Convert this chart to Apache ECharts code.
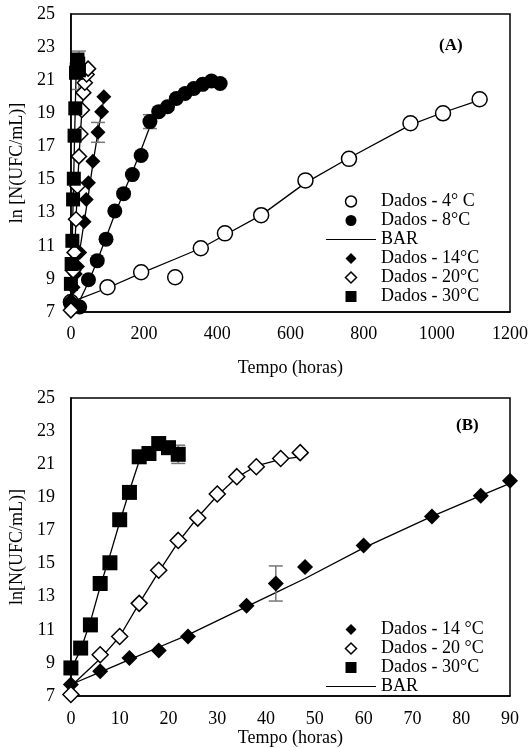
<!DOCTYPE html>
<html>
<head>
<meta charset="utf-8">
<script src="https://cdn.jsdelivr.net/npm/echarts@6/dist/echarts.min.js"></script>
<style>
  html, body { margin: 0; padding: 0; background: #fff; }
  #chart { width: 531px; height: 748px; }
</style>
</head>
<body>
<div id="chart"></div>
<script>
// panel A: 4 and 8 °C (hours)
var t4 = [0, 100, 192, 285, 355, 421, 520, 641, 760, 928, 1017, 1117];
var y4 = [7.6, 8.5, 9.4, 9.1, 10.85, 11.75, 12.85, 14.95, 16.25, 18.4, 19.0, 19.85];
var fit4 = [7.6, 8.45, 9.35, 10.2, 10.85, 11.65, 12.85, 14.8, 16.3, 18.3, 19.05, 19.8];

var t8 = [0, 24, 48, 72, 96, 120, 144, 168, 192, 216, 240, 264, 288, 312, 336, 360, 384, 408];
var y8 = [7.5, 7.3, 8.95, 10.1, 11.4, 13.1, 14.15, 15.3, 16.45, 18.5, 19.1, 19.4, 19.9, 20.2, 20.5, 20.75, 20.95, 20.8];
var fit8 = [7.5, 7.7, 8.8, 10.1, 11.5, 12.9, 14.2, 15.45, 16.8, 18.2, 19.0, 19.5, 19.9, 20.2, 20.5, 20.7, 20.85, 20.9];

// 14, 20, 30 °C (used in both panels)
var t14 = [0, 6, 12, 18, 24, 36, 42, 48, 60, 74, 84, 90];
var y14 = [7.7, 8.5, 9.3, 9.75, 10.6, 12.45, 13.8, 14.8, 16.1, 17.85, 19.1, 20.0];
var fit14 = [7.7, 8.45, 9.2, 9.95, 10.7, 12.4, 13.25, 14.1, 15.95, 17.85, 19.1, 19.85];

var t20 = [0, 6, 10, 14, 18, 22, 26, 30, 34, 38, 43, 47];
var y20 = [7.1, 9.5, 10.6, 12.6, 14.6, 16.4, 17.75, 19.2, 20.25, 20.85, 21.35, 21.7];
var fit20 = [7.6, 9.25, 10.6, 12.6, 14.5, 16.3, 17.8, 19.1, 20.2, 20.9, 21.3, 21.45];

var t30 = [0, 2, 4, 6, 8, 10, 12, 14, 16, 18, 20, 22];
var y30 = [8.7, 9.9, 11.3, 13.8, 15.05, 17.65, 19.3, 21.45, 21.65, 22.25, 22.0, 21.6];
var fit30 = [8.6, 9.8, 11.5, 13.6, 15.5, 17.5, 19.4, 21.2, 21.85, 22.0, 22.0, 22.0];

// error bars: [x, y, +/-]
var errA = [[216, 18.5, 0.42], [74, 17.85, 0.6], [22, 21.6, 1.16]];
var errB = [[42, 13.8, 1.06], [22, 21.6, 0.55]];

var yTicksMin = 7, yTicksMax = 25;

function pairs(xs, ys) {
  return xs.map(function (x, i) { return [x, ys[i]]; });
}

var font = "Liberation Serif";
var open = { color: "#fff", borderColor: "#000", borderWidth: 1.5, opacity: 1 };
var solid = { color: "#000", borderColor: "#000", borderWidth: 0, opacity: 1 };

// legend icons (paths keep their aspect inside the 50x11 legend box)
var iconDiamond = "path://M5,0L10,5L5,10L0,5Z";
var iconSquare = "path://M0,0H10V10H0Z";
var iconLine = "path://M0,0H50V1.2H0Z";

function fitLine(name, xs, ys, ax) {
  return {
    name: name, type: "line", xAxisIndex: ax, yAxisIndex: ax,
    data: pairs(xs, ys), symbol: "none", z: 2,
    itemStyle: { color: "#000" },
    lineStyle: { color: "#000", width: 1.3 }, silent: true
  };
}
function dots(name, xs, ys, ax, symbol, size, style) {
  return {
    name: name, type: "scatter", xAxisIndex: ax, yAxisIndex: ax,
    data: pairs(xs, ys), symbol: symbol, symbolSize: size, z: 4,
    itemStyle: style, emphasis: { disabled: true }
  };
}
function errBars(list, ax) {
  return {
    type: "custom", xAxisIndex: ax, yAxisIndex: ax, z: 3, silent: true,
    data: list,
    renderItem: function (params, api) {
      var x = api.value(0), y = api.value(1), e = api.value(2);
      var top = api.coord([x, y + e]), bot = api.coord([x, y - e]);
      var st = { stroke: "#777", lineWidth: 1.5 };
      return {
        type: "group",
        children: [
          { type: "line", shape: { x1: top[0], y1: top[1], x2: bot[0], y2: bot[1] }, style: st },
          { type: "line", shape: { x1: top[0] - 7, y1: top[1], x2: top[0] + 7, y2: top[1] }, style: st },
          { type: "line", shape: { x1: bot[0] - 7, y1: bot[1], x2: bot[0] + 7, y2: bot[1] }, style: st }
        ]
      };
    }
  };
}

function yAxis(idx, name) {
  return {
    type: "value", gridIndex: idx, min: yTicksMin, max: yTicksMax, interval: 1,
    name: name, nameLocation: "middle", nameGap: 41,
    nameTextStyle: { fontFamily: font, fontSize: 18, color: "#000" },
    axisLine: { show: true, lineStyle: { color: "#000", width: 1.5 } },
    axisTick: { show: false }, splitLine: { show: false },
    axisLabel: {
      margin: 16, fontFamily: font, fontSize: 18, color: "#000",
      formatter: function (v) { return v % 2 === 1 ? String(v) : ""; }
    }
  };
}
function xAxis(idx, max, step, gap, margin) {
  return {
    type: "value", gridIndex: idx, min: 0, max: max, interval: step,
    name: "Tempo (horas)", nameLocation: "middle", nameGap: gap,
    nameTextStyle: { fontFamily: font, fontSize: 18, color: "#000" },
    axisLine: { show: true, onZero: false, lineStyle: { color: "#000", width: 1.5 } },
    axisTick: { show: false }, splitLine: { show: false },
    axisLabel: {
      margin: margin, fontFamily: font, fontSize: 18, color: "#000",
      formatter: function (v) { return String(v); }
    }
  };
}

var legendText = { fontFamily: font, fontSize: 18, color: "#000", lineHeight: 19 };
var lineItem = { color: "#000", borderWidth: 0 };

var option = {
  animation: false,
  backgroundColor: "#fff",
  title: [
    { text: "(A)", left: 434, top: 32, textStyle: { fontFamily: font, fontSize: 17, fontWeight: "bold", color: "#000" } },
    { text: "(B)", left: 451, top: 412, textStyle: { fontFamily: font, fontSize: 17, fontWeight: "bold", color: "#000" } }
  ],
  grid: [
    { left: 64, top: 14, width: 446, height: 298, show: true, borderColor: "#000", borderWidth: 1.5 },
    { left: 64, top: 398, width: 446, height: 304, show: true, borderColor: "#000", borderWidth: 1.5 }
  ],
  xAxis: [xAxis(0, 1200, 200, 47, 13), xAxis(1, 90, 10, 25, 14)],
  yAxis: [yAxis(0, "ln [N(UFC/mL)]"), yAxis(1, "ln[N(UFC/mL)]")],
  legend: [
    {
      orient: "vertical", left: 326, top: 192, padding: 0, itemGap: 0,
      itemWidth: 50, itemHeight: 11, selectedMode: false, textStyle: legendText,
      data: [
        { name: "Dados - 4° C", icon: "circle", itemStyle: open },
        { name: "Dados - 8°C", icon: "circle", itemStyle: solid },
        { name: "BAR", icon: iconLine, itemStyle: lineItem },
        { name: "Dados - 14°C", icon: iconDiamond, itemStyle: solid },
        { name: "Dados - 20°C", icon: iconDiamond, itemStyle: open },
        { name: "Dados - 30°C", icon: iconSquare, itemStyle: solid }
      ]
    },
    {
      orient: "vertical", left: 326, top: 620, padding: 0, itemGap: 0,
      itemWidth: 50, itemHeight: 11, selectedMode: false, textStyle: legendText,
      data: [
        { name: "Dados - 14 °C", icon: iconDiamond, itemStyle: solid },
        { name: "Dados - 20 °C", icon: iconDiamond, itemStyle: open },
        { name: "Dados - 30°C", icon: iconSquare, itemStyle: solid },
        { name: "BAR", icon: iconLine, itemStyle: lineItem }
      ]
    }
  ],
  series: [
    fitLine("BAR", t4, fit4, 0),
    fitLine("BAR", t8, fit8, 0),
    fitLine("BAR", t14, fit14, 0),
    fitLine("BAR", t20, fit20, 0),
    fitLine("BAR", t30, fit30, 0),
    errBars(errA, 0),
    dots("Dados - 4° C", t4, y4, 0, "circle", 15, open),
    dots("Dados - 8°C", t8, y8, 0, "circle", 15, solid),
    dots("Dados - 14°C", t14, y14, 0, "diamond", 15, solid),
    dots("Dados - 20°C", t20, y20, 0, "diamond", 15, open),
    dots("Dados - 30°C", t30, y30, 0, "rect", 14, solid),

    fitLine("BAR", t14, fit14, 1),
    fitLine("BAR", t20, fit20, 1),
    fitLine("BAR", t30, fit30, 1),
    errBars(errB, 1),
    dots("Dados - 14 °C", t14, y14, 1, "diamond", 16, solid),
    dots("Dados - 20 °C", t20, y20, 1, "diamond", 16, open),
    dots("Dados - 30°C", t30, y30, 1, "rect", 15, solid)
  ]
};

var myChart = echarts.init(document.getElementById("chart"));
myChart.setOption(option);
</script>
</body>
</html>
